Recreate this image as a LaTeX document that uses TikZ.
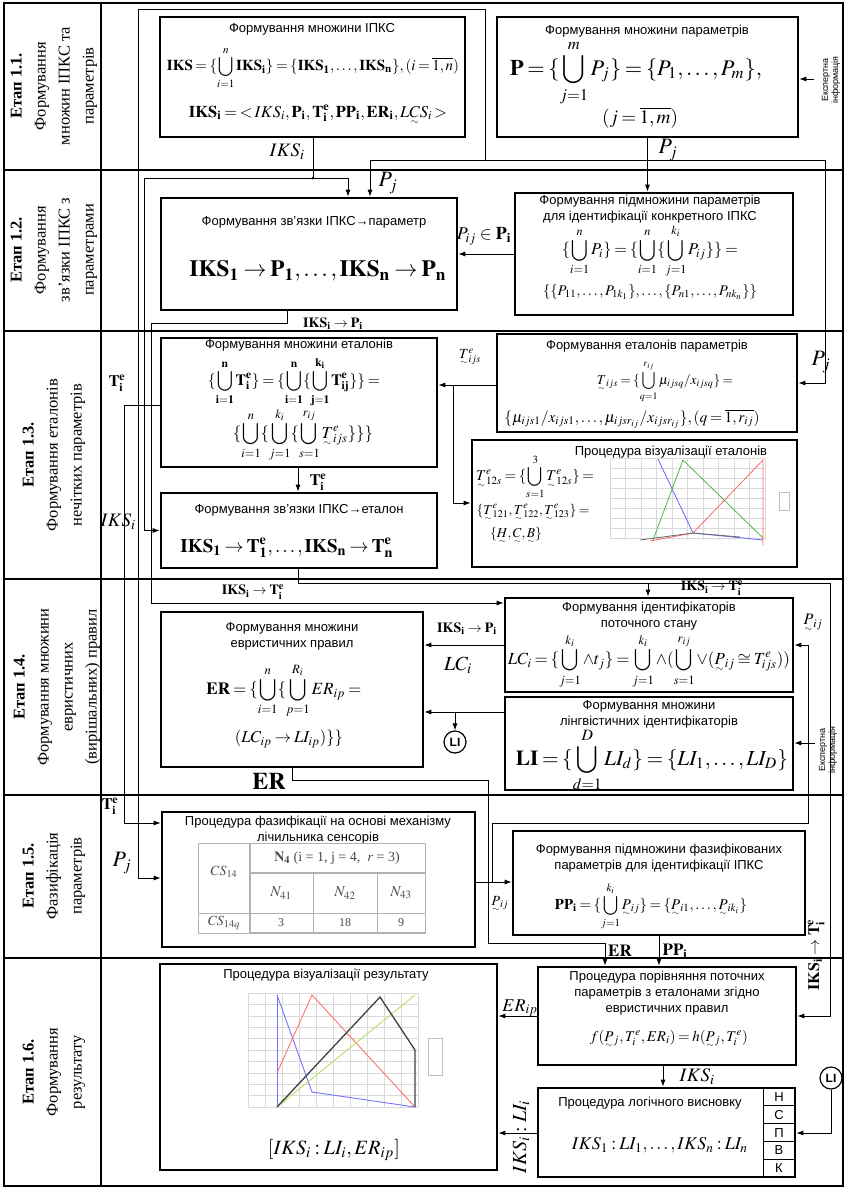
\documentclass[tikz,border=0pt]{standalone}
\usepackage{amsmath,amssymb}
\usepackage{mathptmx}
\usepackage{graphicx}
\usepackage[no-math]{fontspec}
\setmainfont{Liberation Sans}
\newfontfamily\tms{Liberation Serif}
\usetikzlibrary{arrows.meta}
\newcommand\fz[1]{\mathord{\mbox{\ooalign{$#1$\cr\hidewidth\smash{\raisebox{-0.8ex}{$\scriptscriptstyle\sim$}}\hidewidth\cr}}}}
\newcommand\bU{\bigcup\limits}
\newcommand\fw[3]{\resizebox{#1pt}{!}{\thickmuskip=3mu\medmuskip=2mu\thinmuskip=2mu$\displaystyle #3$}}
\begin{document}
\begin{tikzpicture}[x=1pt,y=-1pt,
  box/.style={draw,line width=2.6pt,inner sep=0pt},
  ln/.style={line width=0.9pt},
  arr/.style={line width=0.9pt,-{Latex[length=7pt,width=5pt]}},
  ttl/.style={font=\fontsize{13}{16}\selectfont,align=center,inner sep=0pt},
  stg/.style={rotate=90,align=center,font=\tms\fontsize{16.5}{24}\selectfont,inner sep=0pt},
  lb/.style={inner sep=0pt},
  frm/.style={line width=1.6pt},
  circ/.style={draw,circle,line width=1.2pt,minimum size=22pt,inner sep=0pt,font=\bfseries\fontsize{12}{12}\selectfont},
  grd/.style={gray!30,line width=0.4pt},
  tbl/.style={gray!60,line width=0.7pt},
  tbt/.style={gray!60!black,inner sep=0pt}
]
\useasboundingbox (0,0) rectangle (846,1189);
\fill[white] (0,0) rectangle (846,1189);
% frame
\draw[frm] (4,3) rectangle (843,1186);
\draw[frm] (101,3) -- (101,1186);
\foreach \yy in {170,331,579,795,958} \draw[frm] (4,\yy) -- (843,\yy);
% stage labels
\node[stg] (s1) at (54,86) {\textbf{Етап 1.1.}\\Формування\\множин ІПКС та\\параметрів};
\node[stg] (s2) at (54,250) {\textbf{Етап 1.2.}\\Формування\\зв’язки ІПКС з\\параметрами};
\node[stg] (s3) at (54,455) {\textbf{Етап 1.3.}\\Формування еталонів\\нечітких параметрів};
\node[stg] (s4) at (57,687) {\textbf{Етап 1.4.}\\Формування множини\\евристичних\\(вирішальних) правил};
\node[stg] (s5) at (54,876) {\textbf{Етап 1.5.}\\Фазифікація\\параметрів};
\node[stg] (s6) at (54,1072) {\textbf{Етап 1.6.}\\Формування\\результату};
% boxes
\node[box,minimum width=305pt,minimum height=120pt] (A) at (312.5,77) {};
\node[box,minimum width=301pt,minimum height=120pt] (P) at (647.5,77) {};
\node[box,minimum width=296pt,minimum height=112pt] (B) at (309,254) {};
\node[box,minimum width=278pt,minimum height=122pt] (D) at (654,254) {};
\node[box,minimum width=276pt,minimum height=129pt] (E1) at (299,402.5) {};
\node[box,minimum width=300pt,minimum height=98pt] (C) at (647,383) {};
\node[box,minimum width=276pt,minimum height=75pt] (E2) at (299,530.5) {};
\node[box,minimum width=325pt,minimum height=127pt] (V) at (634.5,503.5) {};
\node[box,minimum width=262pt,minimum height=155pt] (G) at (292,689.5) {};
\node[box,minimum width=288pt,minimum height=94pt] (F) at (649,645) {};
\node[box,minimum width=288pt,minimum height=93pt] (LIB) at (649,743.5) {};
\node[box,minimum width=313pt,minimum height=135pt] (FZ) at (318.5,879.5) {};
\node[box,minimum width=292pt,minimum height=104pt] (H) at (659,883) {};
\node[box,minimum width=337pt,minimum height=206pt] (R) at (328.5,1067) {};
\node[box,minimum width=258pt,minimum height=98pt] (CMP) at (667,1016) {};
\node[box,minimum width=257pt,minimum height=89pt] (LOG) at (666.5,1132.5) {};
\node[circ] (LIc1) at (455,742) {LI};
\node[circ] (LIc2) at (831,1078) {LI};
% connectors
\draw[arr] (A.south -| 313,0) |- (144,178) |- (E2.west);
\fill (313,178) circle (1.5pt);
\draw[arr] (313,178) -| (B.north -| 348,0);
\draw[arr] (P.south) -- (D.north -| P.south);
\draw[ln] (370,160) -- (825,160);
\draw[arr] (370,160) -- (B.north -| 370,0);
\draw[arr] (825,160) |- (C.east);
\draw[arr] (485,160) |- (138,9) |- (FZ.west |- 0,878);
\draw[arr] (B.south -| 287,0) |- (151,323) |- (F.west |- 0,603);
\draw[arr] (D.west) -- (D.west -| B.east);
\draw[arr] (E1.west |- 0,405) -| (124,823) -- (FZ.west |- 0,823);
\draw[arr] (C.west |- 0,385) -- (E1.east |- 0,385);
\draw[arr] (453,385) |- (V.west |- 0,503);
\draw[arr] (E1.south -| 298,0) -- (E2.north -| 298,0);
\draw[arr] (E2.south -| 298,0) |- (830,583) |- (CMP.east);
\draw[arr] (648,583) -- (F.north -| 648,0);
\draw[arr] (F.west) -- (F.west -| G.east);
\draw[arr] (LIB.west |- 0,712) -- (G.east |- 0,712);
\draw[arr] (LIc1.north |- 0,712) -- (LIc1.north);
\draw[arr] (G.south -| 292,0) |- (488,780) |- (605,943) -- (CMP.north -| 605,0);
\draw[arr] (FZ.east |- 0,882) -- (H.west |- 0,882);
\draw[arr] (492,882) |- (808,823) |- (F.east);
\draw[arr] (814,79) -- (P.east |- 0,79);
\draw[arr] (815,743) -- (LIB.east |- 0,743);
\draw[arr] (H.south -| 659,0) -- (CMP.north -| 659,0);
\draw[arr] (CMP.west) -- (CMP.west -| R.east);
\draw[arr] (CMP.south -| 663,0) -- (LOG.north -| 663,0);
\draw[arr] (LOG.west |- 0,1133) -- (R.east |- 0,1133);
\draw[arr] (LIc2.south) |- (LOG.east |- 0,1133);
% expert info
\node[lb,rotate=90,align=center,font=\fontsize{9}{10}\selectfont] (X1) at (831,80) {Експертна\\інформація};
\node[lb,rotate=90,align=center,font=\fontsize{9}{10}\selectfont] (X2) at (828,750) {Експертна\\інформація};
% box A
\node[ttl] (At) at (312,29) {Формування множини ІПКС};
\node[lb] (Af1) at (313,68) {\fw{292}{42}{\mathbf{IKS}=\{\bU_{i=1}^{n}\mathbf{IKS_i}\}=\{\mathbf{IKS_1},\ldots,\mathbf{IKS_n}\},(i=\overline{1,n})}};
\node[lb] (Af2) at (318,113) {\fw{258}{19}{\mathbf{IKS_i}={<}\,IKS_i,\mathbf{P_i},\mathbf{T_i^e},\mathbf{PP_i},\mathbf{ER_i},L\fz{C}S_i\,{>}}};
% box P
\node[ttl] (Pt) at (647,31) {Формування множини параметрів};
\node[lb] (Pf1) at (636,73) {\fw{252}{46}{\mathbf{P}=\{\bU_{j=1}^{m}P_j\}=\{P_1,\ldots,P_m\},}};
\node[lb] (Pf2) at (640,118) {\fw{76}{22}{(j=\overline{1,m})}};
% box B
\node[ttl] (Bt) at (314,222) {Формування зв'язки ІПКС→параметр};
\node[lb] (Bf) at (318,271) {\fw{257}{25}{\mathbf{IKS_1}\to\mathbf{P_1},\ldots,\mathbf{IKS_n}\to\mathbf{P_n}}};
% box D
\node[ttl] (Dt) at (650,209) {Формування підмножини параметрів\\для ідентифікації конкретного ІПКС};
\node[lb] (Df1) at (650,251) {\fw{176}{36}{\{\bU_{i=1}^{n}P_i\}=\{\bU_{i=1}^{n}\{\bU_{j=1}^{k_i}P_{ij}\}\}=}};
\node[lb] (Df2) at (650,292) {\fw{214}{18}{\{\{P_{11},\ldots,P_{1k_1}\},\ldots,\{P_{n1},\ldots,P_{nk_n}\}\}}};
% box E1
\node[ttl] (E1t) at (299,345) {Формування множини еталонів};
\node[lb] (E1f1) at (294,382) {\fw{172}{36}{\{\bU_{\mathbf{i=1}}^{\mathbf{n}}\mathbf{T_i^e}\}=\{\bU_{\mathbf{i=1}}^{\mathbf{n}}\{\bU_{\mathbf{j=1}}^{\mathbf{k_i}}\mathbf{T_{ij}^e}\}\}=}};
\node[lb] (E1f2) at (303,435) {\fw{140}{38}{\{\bU_{i=1}^{n}\{\bU_{j=1}^{k_i}\{\bU_{s=1}^{r_{ij}}\fz{T}_{ijs}^{e}\}\}\}}};
% box E2
\node[ttl] (E2t) at (299,510) {Формування зв'язки ІПКС→еталон};
\node[lb] (E2f) at (287,548) {\fw{213}{21}{\mathbf{IKS_1}\to\mathbf{T_1^e},\ldots,\mathbf{IKS_n}\to\mathbf{T_n^e}}};
% box C
\node[ttl] (Ct) at (647,346) {Формування еталонів параметрів};
\node[lb] (Cf1) at (665,382) {\fw{136}{44}{\fz{T}_{ijs}=\{\bU_{q=1}^{r_{ij}}\mu_{ijsq}/x_{ijsq}\}=}};
\node[lb] (Cf2) at (632,419) {\fw{255}{19}{\{\mu_{ijs1}/x_{ijs1},\ldots,\mu_{ijsr_{ij}}/x_{ijsr_{ij}}\},(q=\overline{1,r_{ij}})}};
% box V
\node[ttl] (Vt) at (671,452) {Процедура візуалізації еталонів};
\node[lb] (Vf1) at (535,477) {\fw{118}{40}{\fz{T}_{12s}^{e}=\{\bU_{s=1}^{3}\fz{T}_{12s}^{e}\}=}};
\node[lb] (Vf2) at (533,511) {\fw{113}{18}{\{\fz{T}_{121}^{e},\fz{T}_{122}^{e},\fz{T}_{123}^{e}\}=}};
\node[lb] (Vf3) at (516,534) {\fw{52}{16}{\{\fz{H},\fz{C},\fz{B}\}}};
\foreach \i in {0,...,10} \draw[grd] (610+15.5*\i,458) -- (610+15.5*\i,540);
\foreach \j in {0,...,8} \draw[grd] (610,458+10*\j) -- (765,458+10*\j);
\draw[blue!60,line width=0.8pt] (658,459) -- (693,533) -- (763,540);
\draw[green!60!black!70,line width=0.8pt] (653,540) -- (683,460) -- (763,538);
\draw[red!60,line width=0.8pt] (650,541) -- (693,533) -- (763,460) -- (763,545);
\draw[black!60,line width=0.8pt] (640,540) -- (693,533) -- (740,537);
\draw[gray!50] (779,492) rectangle (789,510);
% box G
\node[ttl] (Gt) at (292,636) {Формування множини\\евристичних правил};
\node[lb] (Gf1) at (284,691) {\fw{155}{40}{\mathbf{ER}=\{\bU_{i=1}^{n}\{\bU_{p=1}^{R_i}ER_{ip}=}};
\node[lb] (Gf2) at (289,739) {\fw{108}{18}{(LC_{ip}\to LI_{ip})\}\}}};
% box F
\node[ttl] (Ft) at (649,616) {Формування ідентифікаторів\\поточного стану};
\node[lb] (Ff) at (649,661) {\fw{282}{42}{LC_i=\{\bU_{j=1}^{k_i}\wedge t_j\}=\bU_{j=1}^{k_i}\wedge(\bU_{s=1}^{r_{ij}}\vee(\fz{P}_{ij}\cong T_{ijs}^{e}))}};
% box LI
\node[ttl] (LIt) at (649,714) {Формування множини\\лінгвістичних ідентифікаторів};
\node[lb] (LIf) at (652,760) {\fw{272}{46}{\mathbf{LI}=\{\bU_{d=1}^{D}LI_d\}=\{LI_1,\ldots,LI_D\}}};
% box FZ
\node[ttl] (FZt) at (318,830) {Процедура фазифікації на основі механізму\\лічильника сенсорів};
\draw[tbl] (198,843) rectangle (425,933);
\draw[tbl] (198,913) -- (425,913);
\draw[tbl] (313,873) -- (313,933);
\draw[tbl] (377,873) -- (377,933);
\draw[gray!60,line width=1.6pt] (250,843) -- (250,933);
\draw[gray!60,line width=1.6pt] (250,873) -- (425,873);
\draw[gray!60,line width=1.6pt] (250,933) -- (425,933);
\node[tbt,font=\fontsize{14}{14}\selectfont] (T1) at (224,872) {$CS_{14}$};
\node[tbt,font=\fontsize{14}{14}\selectfont] (T2) at (224,923) {$CS_{14q}$};
\node[tbt,font=\tms\fontsize{14}{14}\selectfont] (T3) at (337,858) {$\mathbf{N_4}$ (i = 1, j = 4,\ \ $r$ = 3)};
\node[tbt,font=\fontsize{15}{15}\selectfont] (T4) at (281,893) {$N_{41}$};
\node[tbt,font=\fontsize{15}{15}\selectfont] (T5) at (345,893) {$N_{42}$};
\node[tbt,font=\fontsize{15}{15}\selectfont] (T6) at (401,893) {$N_{43}$};
\node[tbt,font=\tms\fontsize{12}{12}\selectfont] (T7) at (281,923) {3};
\node[tbt,font=\tms\fontsize{12}{12}\selectfont] (T8) at (345,923) {18};
\node[tbt,font=\tms\fontsize{12}{12}\selectfont] (T9) at (401,923) {9};
% box H
\node[ttl] (Ht) at (659,858) {Формування підмножини фазифікованих\\параметрів для ідентифікації ІПКС};
\node[lb] (Hf) at (651,906) {\fw{192}{36}{\mathbf{PP_i}=\{\bU_{j=1}^{k_i}\fz{P}_{ij}\}=\{\fz{P}_{i1},\ldots,\fz{P}_{ik_i}\}}};
% box R
\node[ttl] (Rt) at (326,975) {Процедура візуалізації результату};
\foreach \i in {0,...,10} \draw[grd] (248+17*\i,993) -- (248+17*\i,1107);
\foreach \j in {0,...,10} \draw[grd] (248,993+11.4*\j) -- (418,993+11.4*\j);
\draw[blue!55,line width=0.9pt] (277,995) -- (277,1107);
\draw[blue!55,line width=0.9pt] (277,995) -- (312,1092) -- (415,1107);
\draw[red!55,line width=0.9pt] (277,1073) -- (312,995) -- (415,1107);
\draw[yellow!60!green!70,line width=0.9pt] (277,1107) -- (415,995);
\draw[black!75,line width=1.3pt] (277,1107) -- (380,997) -- (415,1050) -- (415,1107);
\draw[gray!50] (428,1038) rectangle (442,1075);
\node[lb] (Rf) at (334,1150) {\fw{132}{23}{[IKS_i:LI_i,ER_{ip}]}};
% box CMP
\node[ttl] (CMPt) at (667,993) {Процедура порівняння поточних\\параметрів з еталонами згідно\\евристичних правил};
\node[lb] (CMPf) at (669,1038) {\fw{158}{21}{f(\fz{P}_j,T_i^{e},ER_i)=h(\fz{P}_j,T_i^{e})}};
% box LOG
\node[ttl] (LOGt) at (650,1103) {Процедура логічного висновку};
\node[lb] (LOGf) at (660,1145) {\fw{176}{21}{IKS_1:LI_1,\ldots,IKS_n:LI_n}};
\draw[ln] (763,1088) -- (763,1177);
\foreach \k in {1,...,4} \draw[ln] (763,1088+17.8*\k) -- (795,1088+17.8*\k);
\foreach \k/\c in {0/Н,1/С,2/П,3/В,4/К} \node[lb,font=\fontsize{13}{13}\selectfont] at (779,1097+17.8*\k) {\c};
% labels
\node[lb,font=\fontsize{19}{19}\selectfont] (L1) at (287,152) {$IKS_i$};
\node[lb,font=\fontsize{22}{22}\selectfont] (L2) at (668,150) {$P_j$};
\node[lb,font=\fontsize{22}{22}\selectfont] (L3) at (388,183) {$P_j$};
\node[lb,font=\fontsize{18}{18}\selectfont] (L4) at (484,236) {$P_{ij}\in\mathbf{P_i}$};
\node[lb,font=\fontsize{14}{14}\selectfont] (L5) at (333,324) {$\mathbf{IKS_i}\to\mathbf{P_i}$};
\node[lb,font=\fontsize{16}{16}\selectfont] (L6) at (117,383) {$\mathbf{T_i^e}$};
\node[lb,font=\fontsize{14}{14}\selectfont] (L7) at (470,357) {$\fz{T}_{ijs}^{e}$};
\node[lb,font=\fontsize{22}{22}\selectfont] (L8) at (821,362) {$P_j$};
\node[lb,font=\fontsize{16}{16}\selectfont] (L9) at (318,482) {$\mathbf{T_i^e}$};
\node[lb,font=\fontsize{19}{19}\selectfont] (L10) at (118,522) {$IKS_i$};
\node[lb,font=\fontsize{14}{14}\selectfont] (L11) at (253,592) {$\mathbf{IKS_i}\to\mathbf{T_i^e}$};
\node[lb,font=\fontsize{14}{14}\selectfont] (L12) at (712,588) {$\mathbf{IKS_i}\to\mathbf{T_i^e}$};
\node[lb,font=\fontsize{14}{14}\selectfont] (L13) at (467,629) {$\mathbf{IKS_i}\to\mathbf{P_i}$};
\node[lb,font=\fontsize{20}{20}\selectfont] (L14) at (458,665) {$LC_i$};
\node[lb,font=\fontsize{16}{16}\selectfont] (L15) at (813,622) {$\fz{P}_{ij}$};
\node[lb,font=\fontsize{24}{24}\selectfont] (L16) at (269,781) {$\mathbf{ER}$};
\node[lb,font=\fontsize{16}{16}\selectfont] (L17) at (110,806) {$\mathbf{T_i^e}$};
\node[lb,font=\fontsize{22}{22}\selectfont] (L18) at (122,863) {$P_j$};
\node[lb,font=\fontsize{14}{14}\selectfont] (L19) at (500,903) {$\fz{P}_{ij}$};
\node[lb,font=\fontsize{17}{17}\selectfont] (L20) at (620,951) {$\mathbf{ER}$};
\node[lb,font=\fontsize{17}{17}\selectfont] (L21) at (675,951) {$\mathbf{PP_i}$};
\node[lb,rotate=90,font=\fontsize{16}{16}\selectfont] (L22) at (816,955) {$\mathbf{IKS_i}\to\mathbf{T_i^e}$};
\node[lb,font=\fontsize{18}{18}\selectfont] (L23) at (520,1008) {$ER_{ip}$};
\node[lb,font=\fontsize{19}{19}\selectfont] (L24) at (697,1077) {$IKS_i$};
\node[lb,rotate=90,font=\fontsize{20}{20}\selectfont] (L25) at (521,1137) {$IKS_i:LI_i$};
\end{tikzpicture}
\end{document}
